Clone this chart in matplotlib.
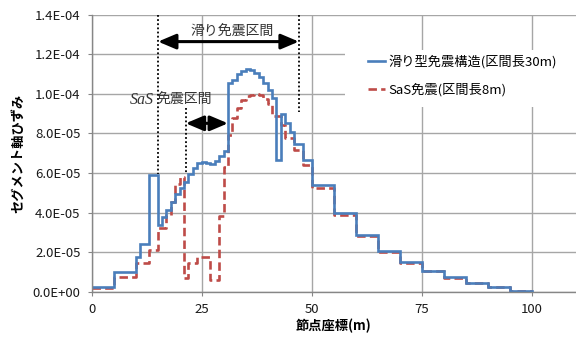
import matplotlib
matplotlib.use('Agg')
import matplotlib.pyplot as plt
from matplotlib.patches import Rectangle
from matplotlib.lines import Line2D
from matplotlib.ticker import FuncFormatter

plt.rcParams['font.family'] = ['Noto Sans CJK JP', 'DejaVu Sans']

# ---- data ----
series_names = ['滑り型免震構造(区間長30m)', 'SaS免震(区間長8m)']

blue_edges = [0, 5, 10, 11, 13, 15, 16, 17, 18, 19, 20, 21, 22, 23, 24, 25, 26, 27, 28, 29,
              30, 31, 32, 33, 34, 35, 36, 37, 38, 39, 40, 41, 42, 43, 44, 45, 46, 48, 50,
              55, 60, 65, 70, 75, 80, 85, 90, 95, 100]
blue_vals = [2.5e-6, 1.0e-5, 1.77e-5, 2.41e-5, 5.9e-5, 3.37e-5, 3.77e-5, 4.13e-5, 4.55e-5,
             4.92e-5, 5.23e-5, 5.56e-5, 5.95e-5, 6.26e-5, 6.52e-5, 6.55e-5, 6.5e-5, 6.45e-5,
             6.6e-5, 6.85e-5, 7.1e-5, 1.053e-4, 1.07e-4, 1.099e-4, 1.116e-4, 1.126e-4,
             1.12e-4, 1.107e-4, 1.087e-4, 1.053e-4, 1.02e-4, 9.81e-5, 6.66e-5, 8.96e-5,
             8.52e-5, 8.09e-5, 7.47e-5, 6.66e-5, 5.39e-5, 3.96e-5, 2.87e-5, 2.06e-5,
             1.49e-5, 1.06e-5, 7.3e-6, 4.6e-6, 2.5e-6, 5e-7]

red_edges = [0, 5, 10, 13, 15, 17, 18, 19, 20, 21, 22, 24, 27, 29, 30, 31, 32, 33, 34, 35,
             36, 37, 38, 39, 40, 41, 42, 43, 44, 46, 48, 50, 55, 60, 65, 70, 75, 80, 85,
             90, 95, 100]
red_vals = [2.0e-6, 7.3e-6, 1.45e-5, 2.1e-5, 3.2e-5, 3.88e-5, 4.55e-5, 5.44e-5, 5.81e-5,
            6.8e-6, 1.43e-5, 1.77e-5, 5.9e-6, 3.85e-5, 6.3e-5, 7.9e-5, 8.8e-5, 9.3e-5,
            9.7e-5, 9.9e-5, 9.95e-5, 1.0e-4, 9.95e-5, 9.75e-5, 9.5e-5, 8.9e-5, 8.9e-5,
            8.45e-5, 7.75e-5, 7.16e-5, 6.4e-5, 5.22e-5, 3.88e-5, 2.83e-5, 2.02e-5,
            1.46e-5, 1.04e-5, 7.1e-6, 4.4e-6, 2.3e-6, 4e-7]

x_ticks = [0, 25, 50, 75, 100]
y_ticks = [0, 2e-5, 4e-5, 6e-5, 8e-5, 1.0e-4, 1.2e-4, 1.4e-4]

xlabel = '節点座標(m)'
ylabel = 'セグメント軸ひずみ'
slide_label = '滑り免震区間'
sas_label_a = 'SaS'
sas_label_b = '免震区間'

blue = '#4A7EBB'
red = '#BE4B48'

fig = plt.figure(figsize=(5.76, 3.38), dpi=100)
ax = fig.add_axes([0.159, 0.137, 0.8403, 0.8195])

ax.step(blue_edges, blue_vals + [blue_vals[-1]], where='post', color=blue, lw=1.9,
        solid_joinstyle='miter', zorder=2.2)
ax.step(red_edges, red_vals + [red_vals[-1]], where='post', color=red, lw=1.9,
        linestyle=(0, (3.2, 1.6)), zorder=2.1)

ax.set_xlim(0, 110)
ax.set_ylim(0, 1.4e-4)
ax.set_xticks(x_ticks)
ax.set_yticks(y_ticks)
ax.yaxis.set_major_formatter(FuncFormatter(lambda v, p: f'{v:.1E}'))
ax.grid(True, color='#A6A6A6', lw=1.0, zorder=0)
ax.set_axisbelow(True)
for s in ['top', 'right']:
    ax.spines[s].set_visible(False)
for s in ['left', 'bottom']:
    ax.spines[s].set_color('#868686')
    ax.spines[s].set_linewidth(1.0)
ax.tick_params(axis='both', direction='out', length=3, color='#868686', labelsize=9.5,
               labelcolor='#1a1a1a')
ax.tick_params(axis='y', pad=5)
ax.tick_params(axis='x', pad=5)

ax.set_xlabel(xlabel, fontsize=9.5, fontweight='bold', labelpad=2)
ax.set_ylabel(ylabel, fontsize=9.5, fontweight='bold', labelpad=5)

# dotted guide lines
dot = dict(color='black', lw=1.3, linestyle=(0, (1, 1.3)), zorder=3)
ax.plot([15.1, 15.1], [1.4e-4, 5.95e-5], **dot)
ax.plot([21.4, 21.4], [9.28e-5, 6.0e-5], **dot)
ax.plot([47.1, 47.1], [1.4e-4, 9.1e-5], **dot)

arrow = dict(arrowstyle='<|-|>,head_length=0.9,head_width=0.38', color='black', lw=2.2,
             shrinkA=0, shrinkB=0, mutation_scale=12)
ax.annotate('', xy=(15.1, 1.264e-4), xytext=(47.1, 1.264e-4), arrowprops=arrow, zorder=4)
ax.annotate('', xy=(21.4, 8.51e-5), xytext=(31.0, 8.51e-5), arrowprops=arrow, zorder=4)

ax.text(32.0, 1.314e-4, slide_label, ha='center', va='center', fontsize=10, color='#333333')
ax.text(14.1, 9.71e-5, sas_label_a, ha='right', va='center', fontsize=11.5,
        family='Liberation Serif', style='italic', color='#333333')
ax.text(14.8, 9.71e-5, sas_label_b, ha='left', va='center', fontsize=10, color='#333333')

# legend background
ax.add_patch(Rectangle((0.523, 0.667), 0.48, 0.206, transform=ax.transAxes,
                       facecolor='white', edgecolor='none', zorder=3, clip_on=False))
handles = [Line2D([], [], color=blue, lw=1.9),
           Line2D([], [], color=red, lw=1.9, linestyle=(0, (3.2, 1.6)))]
leg = ax.legend(handles, series_names, loc='upper left', bbox_to_anchor=(0.571, 0.8545),
                frameon=False, borderpad=0, borderaxespad=0, fontsize=9.5,
                handlelength=1.3, handletextpad=0.25, labelspacing=1.05)
leg.set_zorder(5)

fig.savefig('out.png', dpi=100)
